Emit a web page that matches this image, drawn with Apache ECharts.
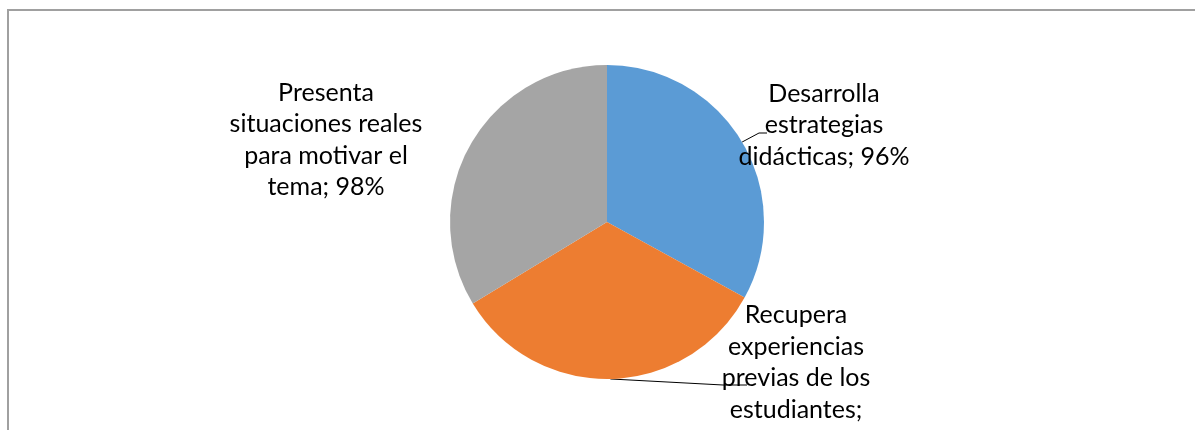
<!DOCTYPE html>
<html>
<head>
<meta charset="utf-8">
<script src="https://cdn.jsdelivr.net/npm/echarts@6/dist/echarts.min.js"></script>
<style>
  html, body { margin: 0; padding: 0; background: #ffffff; }
  #chart { width: 1195px; height: 430px; }
</style>
</head>
<body>
<div id="chart"></div>
<script>
// Categories (line breaks as laid out in the labels) and percentages
const categories = [
  'Desarrolla\nestrategias\ndidácticas',
  'Recupera\nexperiencias\nprevias de los\nestudiantes',
  'Presenta\nsituaciones reales\npara motivar el\ntema'
];
const values = [96, 97, 98];
const colors = ['#5B9BD5', '#ED7D31', '#A5A5A5'];
// whether the percentage wraps onto its own line
const valueOnNewLine = [false, true, false];

// Label block centre, and the bend / end of the leader line (null = no line)
const labelPlacement = [
  { x: 824, y: 125, bend: [759, 133], end: [767, 133] },
  { x: 796, y: 378, bend: [723, 385], end: [747, 385] },
  { x: 326, y: 140, bend: null, end: null }
];

const chart = echarts.init(document.getElementById('chart'), null, { renderer: 'canvas' });

const seriesData = categories.map((name, i) => ({
  name: name,
  value: values[i],
  itemStyle: { color: colors[i] },
  labelLine: { show: !!labelPlacement[i].bend }
}));

chart.setOption({
  animation: false,
  backgroundColor: '#ffffff',
  graphic: [{
    type: 'rect',
    shape: { x: 8, y: 10, width: 1300, height: 600 },
    style: { fill: 'none', stroke: '#a0a0a0', lineWidth: 2 },
    silent: true,
    z: -1
  }],
  series: [{
    type: 'pie',
    center: [607, 222],
    radius: 157,
    startAngle: 90,
    clockwise: true,
    avoidLabelOverlap: false,
    data: seriesData,
    itemStyle: { borderWidth: 0 },
    label: {
      show: true,
      position: 'outside',
      formatter: p => p.name + ';' + (valueOnNewLine[p.dataIndex] ? '\n' : ' ') + p.value + '%',
      fontFamily: 'Lato',
      fontSize: 25,
      lineHeight: 31.5,
      color: '#000000',
      align: 'center'
    },
    labelLine: {
      show: true,
      length: 10,
      length2: 10,
      lineStyle: { color: '#000000', width: 1 }
    },
    labelLayout: params => {
      const p = labelPlacement[params.dataIndex];
      const out = { x: p.x, y: p.y, align: 'center', verticalAlign: 'middle' };
      if (p.bend && params.labelLinePoints) {
        // start from the slice's own edge anchor
        out.labelLinePoints = [params.labelLinePoints[0], p.bend, p.end];
      }
      return out;
    }
  }]
});
</script>
</body>
</html>
